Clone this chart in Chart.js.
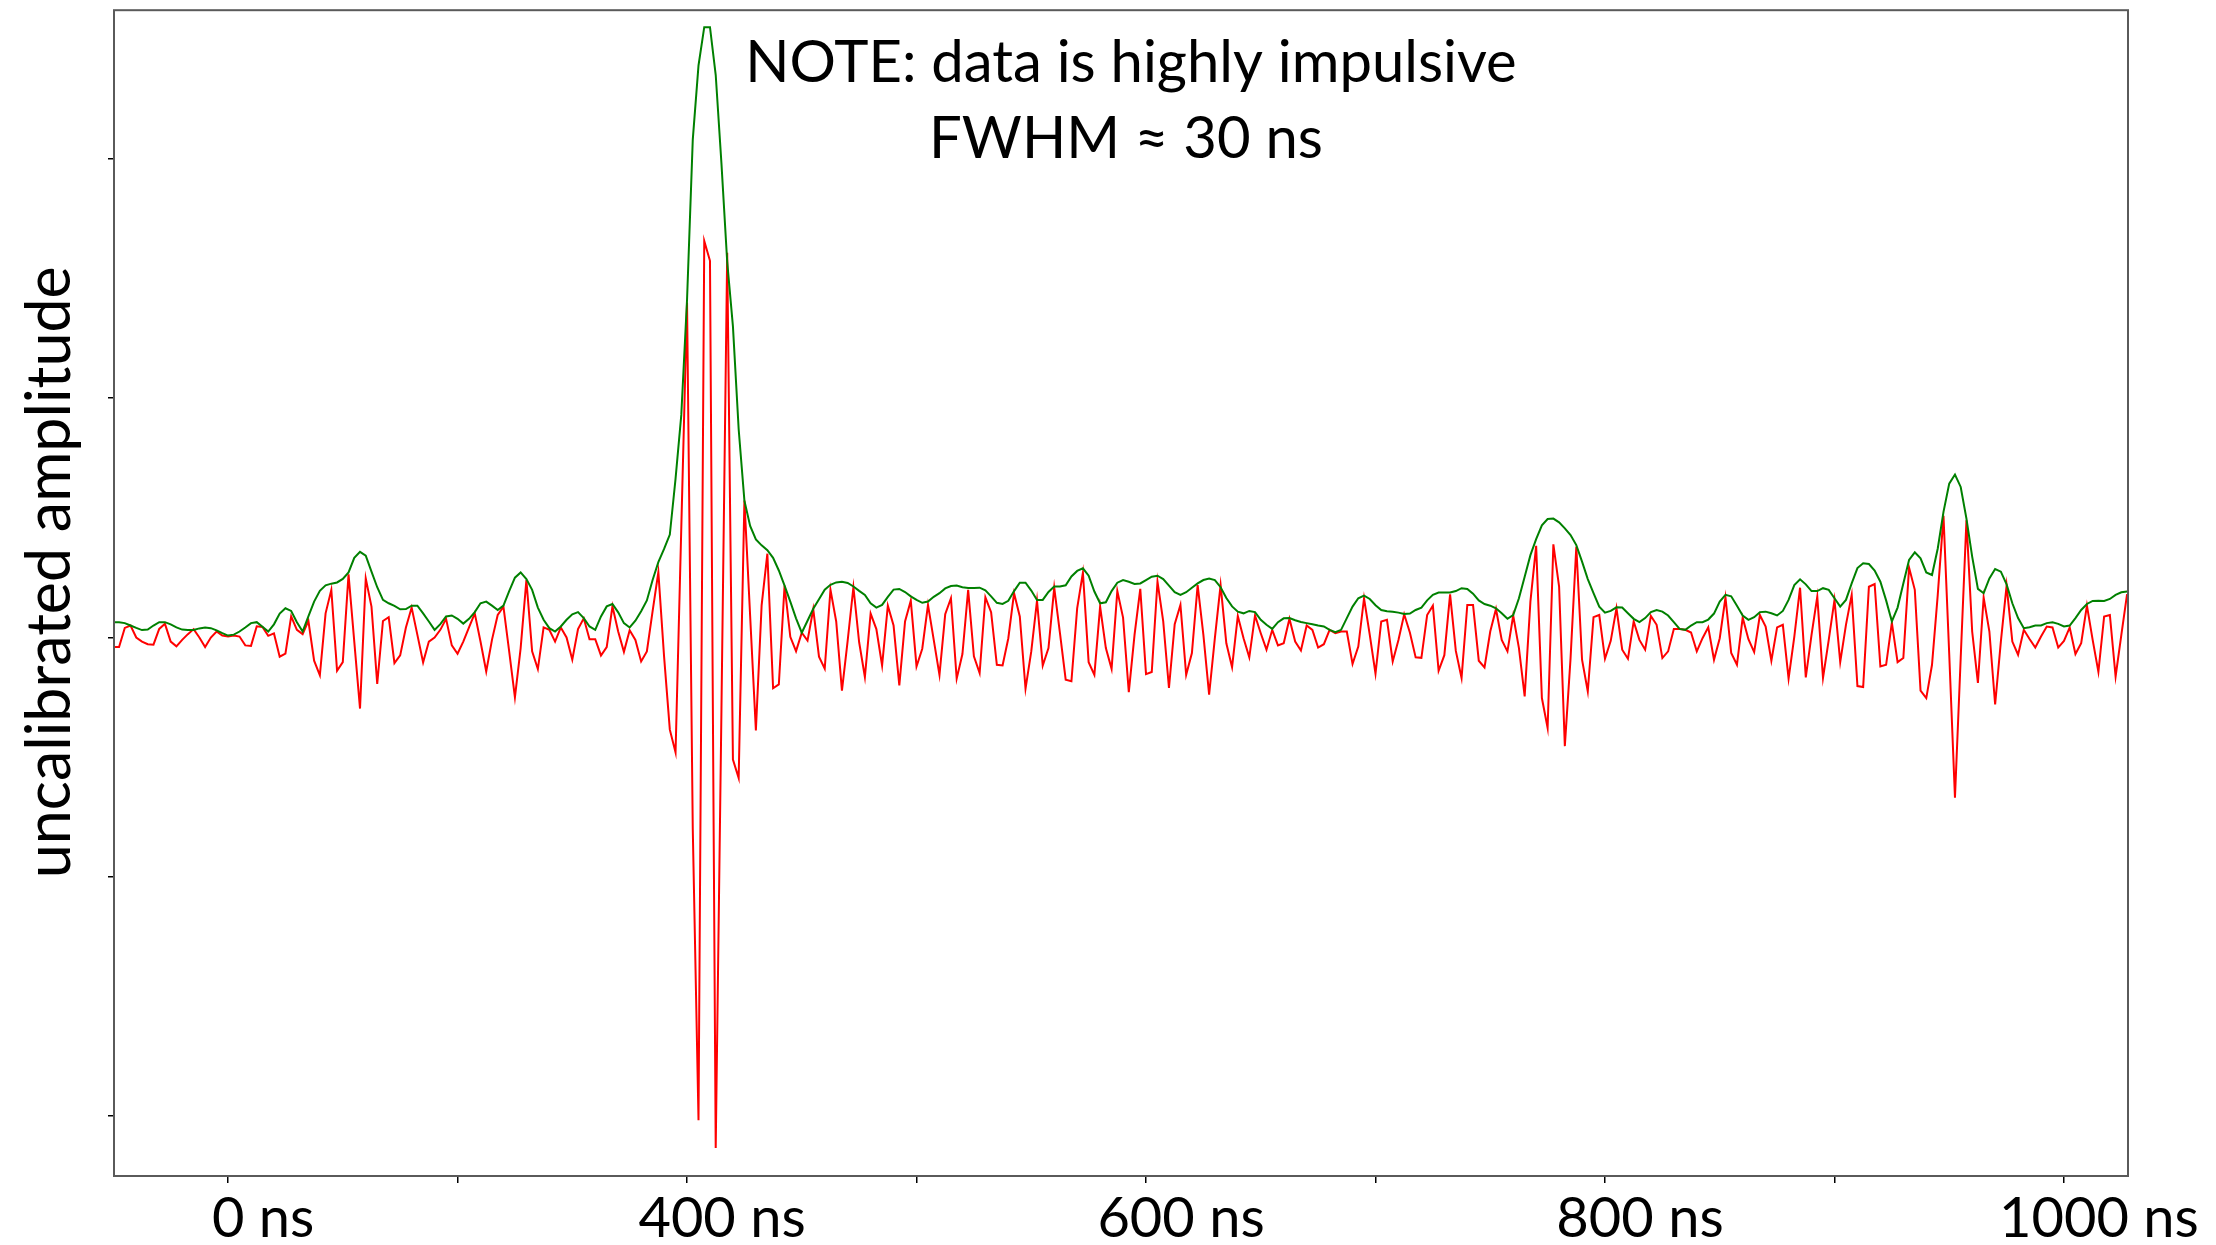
<!DOCTYPE html>
<html>
<head>
<meta charset="utf-8">
<title>impulsive data</title>
<script src="https://cdn.jsdelivr.net/npm/chart.js@4.4.1/dist/chart.umd.min.js"></script>
<style>
  html, body { margin: 0; padding: 0; background: #fff; }
  #wrap { width: 2216px; height: 1245px; }
</style>
</head>
<body>
<div id="wrap"><canvas id="chart" width="2216" height="1245"></canvas></div>
<script>
// sample grid (x axis units, one sample = 2.5)
const sampleStart = -50;
const sampleStep = 2.5;

// raw trace (red)
const rawTrace = [
  -0.04,-0.04,0.04,0.05,0.0,-0.017,-0.028,-0.03,0.036,0.057,
  -0.017,-0.037,-0.01,0.014,0.035,0.0,-0.04,0.0,0.025,0.008,
  0.004,0.008,0.004,-0.033,-0.035,0.047,0.044,0.007,0.017,-0.08,
  -0.067,0.088,0.032,0.014,0.07,-0.097,-0.158,0.101,0.199,-0.139,
  -0.103,0.264,-0.017,-0.297,0.247,0.129,-0.194,0.069,0.085,-0.107,
  -0.075,0.042,0.125,0.011,-0.104,-0.017,0.0,0.032,0.078,-0.033,
  -0.068,-0.017,0.042,0.101,-0.017,-0.142,-0.01,0.094,0.129,-0.058,
  -0.25,-0.044,0.24,-0.058,-0.132,0.042,0.032,-0.017,0.042,0.0,
  -0.093,0.035,0.08,-0.007,-0.007,-0.075,-0.04,0.13,0.025,-0.06,
  0.03,-0.01,-0.1,-0.058,0.11,0.273,-0.08,-0.385,-0.48,0.46,
  1.4,-0.8,-2.017,1.657,1.574,-2.133,-0.3,1.607,-0.51,-0.587,
  0.572,0.09,-0.388,0.134,0.35,-0.212,-0.196,0.217,0.003,-0.057,
  0.02,-0.013,0.118,-0.08,-0.13,0.2,0.067,-0.222,-0.013,0.21,
  -0.02,-0.165,0.1,0.035,-0.117,0.133,0.05,-0.2,0.067,0.154,
  -0.121,-0.047,0.136,-0.01,-0.156,0.097,0.164,-0.172,-0.069,0.199,
  -0.079,-0.149,0.168,0.106,-0.114,-0.117,-0.003,0.185,0.088,-0.214,
  -0.058,0.154,-0.117,-0.044,0.208,0.018,-0.176,-0.183,0.122,0.271,
  -0.103,-0.156,0.129,-0.044,-0.131,0.194,0.083,-0.228,0.011,0.203,
  -0.153,-0.144,0.233,0.067,-0.211,0.056,0.136,-0.156,-0.065,0.219,
  0.011,-0.239,-0.003,0.219,-0.024,-0.124,0.09,-0.003,-0.083,0.092,
  0.018,-0.051,0.032,-0.033,-0.024,0.078,-0.017,-0.054,0.05,0.032,
  -0.042,-0.028,0.032,0.018,0.025,0.025,-0.11,-0.038,0.164,0.011,
  -0.151,0.067,0.074,-0.1,-0.01,0.097,0.02,-0.083,-0.085,0.094,
  0.133,-0.139,-0.074,0.18,-0.056,-0.169,0.136,0.136,-0.097,-0.125,
  0.025,0.119,-0.01,-0.058,0.092,-0.044,-0.246,0.15,0.383,-0.253,
  -0.378,0.389,0.213,-0.454,-0.086,0.379,-0.093,-0.225,0.085,0.094,
  -0.089,-0.014,0.122,-0.051,-0.089,0.067,-0.01,-0.051,0.09,0.053,
  -0.086,-0.058,0.035,0.035,0.032,0.021,-0.058,-0.003,0.043,-0.093,
  -0.003,0.167,-0.065,-0.114,0.083,-0.007,-0.061,0.094,0.046,-0.097,
  0.042,0.053,-0.172,0.004,0.208,-0.167,0.011,0.171,-0.169,-0.01,
  0.157,-0.103,0.053,0.178,-0.203,-0.207,0.212,0.223,-0.121,-0.114,
  0.062,-0.103,-0.086,0.292,0.199,-0.222,-0.253,-0.114,0.178,0.508,
  -0.07,-0.669,-0.086,0.49,0.025,-0.19,0.167,0.025,-0.28,-0.017,
  0.217,-0.017,-0.072,0.032,-0.006,-0.042,0.004,0.046,0.042,-0.042,
  -0.014,0.042,-0.069,-0.024,0.133,-0.01,-0.144,0.088,0.094,-0.163,
  0.011,0.181
];

// envelope (green)
const envelope = [
  0.064,0.064,0.06,0.05,0.04,0.031,0.033,0.05,0.064,0.064,
  0.055,0.042,0.033,0.031,0.031,0.038,0.042,0.039,0.03,0.018,
  0.008,0.012,0.025,0.042,0.06,0.064,0.045,0.025,0.055,0.1,
  0.122,0.111,0.064,0.025,0.088,0.15,0.195,0.218,0.225,0.23,
  0.245,0.272,0.333,0.358,0.342,0.275,0.21,0.157,0.143,0.132,
  0.118,0.119,0.133,0.133,0.101,0.067,0.032,0.056,0.088,0.092,
  0.078,0.058,0.078,0.106,0.143,0.15,0.133,0.115,0.133,0.194,
  0.25,0.272,0.244,0.199,0.125,0.074,0.039,0.025,0.046,0.074,
  0.097,0.106,0.081,0.046,0.032,0.088,0.13,0.14,0.105,0.06,
  0.042,0.07,0.11,0.155,0.24,0.315,0.37,0.43,0.664,0.93,
  1.41,2.08,2.39,2.55,2.55,2.35,1.98,1.57,1.3,0.87,
  0.572,0.466,0.41,0.385,0.365,0.333,0.28,0.217,0.15,0.08,
  0.02,0.07,0.12,0.16,0.2,0.22,0.23,0.233,0.228,0.213,
  0.195,0.178,0.143,0.125,0.136,0.17,0.2,0.203,0.19,0.172,
  0.157,0.145,0.15,0.17,0.185,0.205,0.215,0.217,0.21,0.207,
  0.207,0.208,0.197,0.172,0.145,0.14,0.153,0.194,0.229,0.229,
  0.196,0.157,0.157,0.19,0.213,0.213,0.218,0.255,0.278,0.289,
  0.258,0.192,0.143,0.147,0.194,0.229,0.24,0.233,0.224,0.226,
  0.24,0.254,0.258,0.244,0.217,0.189,0.178,0.189,0.208,0.226,
  0.24,0.246,0.24,0.21,0.165,0.13,0.108,0.101,0.111,0.106,
  0.074,0.053,0.036,0.064,0.08,0.081,0.072,0.065,0.06,0.055,
  0.05,0.046,0.032,0.022,0.032,0.081,0.129,0.164,0.175,0.161,
  0.135,0.115,0.11,0.108,0.104,0.098,0.1,0.115,0.125,0.155,
  0.178,0.188,0.188,0.188,0.194,0.206,0.203,0.183,0.155,0.14,
  0.133,0.122,0.101,0.078,0.094,0.164,0.254,0.344,0.411,0.469,
  0.495,0.497,0.481,0.456,0.428,0.386,0.317,0.244,0.185,0.129,
  0.104,0.111,0.126,0.125,0.101,0.078,0.064,0.081,0.106,0.115,
  0.108,0.092,0.064,0.036,0.032,0.05,0.064,0.064,0.075,0.1,
  0.15,0.178,0.172,0.133,0.092,0.074,0.085,0.106,0.108,0.101,
  0.092,0.111,0.157,0.219,0.243,0.222,0.194,0.194,0.206,0.199,
  0.164,0.129,0.157,0.226,0.29,0.31,0.307,0.28,0.233,0.155,
  0.067,0.125,0.226,0.324,0.356,0.331,0.272,0.261,0.372,0.525,
  0.643,0.681,0.629,0.497,0.338,0.203,0.185,0.247,0.286,0.275,
  0.222,0.143,0.081,0.039,0.043,0.05,0.05,0.06,0.064,0.057,
  0.046,0.05,0.081,0.115,0.14,0.153,0.154,0.153,0.161,0.178,
  0.189,0.192
];

// x ticks: every 100 units gets a mark, only these get text
const xTickValues = [0, 100, 200, 300, 400, 500, 600, 700, 800];
const xLabelValues = [0, 200, 400, 600, 800];
const xLabelTexts = ['0 ns', '400 ns', '600 ns', '800 ns', '1000 ns'];
const yTickValues = [-2, -1, 0, 1, 2];

const yTitle = 'uncalibrated amplitude';
const noteLines = ['NOTE: data is highly impulsive', 'FWHM \u2248 30 ns'];

const FONT = 'Lato, "Open Sans", sans-serif';

const toPoints = (arr) => arr.map((v, i) => ({ x: sampleStart + i * sampleStep, y: v }));

// frame, y title and the note text
const overlay = {
  id: 'overlay',
  afterDraw(chart) {
    const { ctx, chartArea: a } = chart;
    ctx.save();
    ctx.strokeStyle = '#5a5a5a';
    ctx.lineWidth = 2;
    ctx.strokeRect(a.left, a.top, a.right - a.left, a.bottom - a.top);

    ctx.fillStyle = '#000';
    ctx.textAlign = 'center';
    ctx.textBaseline = 'alphabetic';
    ctx.font = `58px ${FONT}`;
    ctx.fillText(noteLines[0], a.left + 1017, a.top + 72);
    ctx.fillText(noteLines[1], a.left + 1012, a.top + 148);

    // rotated axis title, a bit above the plot's middle like the original
    ctx.translate(a.left - 44, a.top + 562);
    ctx.rotate(-Math.PI / 2);
    ctx.font = `61px ${FONT}`;
    ctx.textBaseline = 'alphabetic';
    ctx.fillText(yTitle, 0, 0);
    ctx.restore();
  }
};

new Chart(document.getElementById('chart'), {
  type: 'line',
  data: {
    datasets: [
      {
        label: 'envelope',
        data: toPoints(envelope),
        borderColor: '#008000',
        borderWidth: 2,
        pointRadius: 0,
        tension: 0,
        order: 0
      },
      {
        label: 'raw',
        data: toPoints(rawTrace),
        borderColor: '#ff0000',
        borderWidth: 2,
        pointRadius: 0,
        tension: 0,
        order: 1
      }
    ]
  },
  options: {
    responsive: false,
    animation: false,
    events: [],
    layout: { padding: { top: 7, right: 88, left: 0, bottom: 0 } },
    plugins: { legend: { display: false }, tooltip: { enabled: false } },
    scales: {
      x: {
        type: 'linear',
        min: -49.7,
        max: 827.9,
        afterBuildTicks: (scale) => { scale.ticks = xTickValues.map((v) => ({ value: v })); },
        afterFit: (scale) => { scale.height = 69; },
        grid: { drawOnChartArea: false, drawTicks: true, tickLength: 7, color: '#000', lineWidth: 1.5 },
        border: { display: false },
        ticks: {
          autoSkip: false,
          maxRotation: 0,
          padding: 2,
          labelOffset: 35,
          color: '#000',
          font: { family: FONT, size: 56 },
          callback: (v) => {
            const k = xLabelValues.indexOf(v);
            return k < 0 ? '' : xLabelTexts[k];
          }
        }
      },
      y: {
        type: 'linear',
        min: -2.25,
        max: 2.621,
        afterBuildTicks: (scale) => { scale.ticks = yTickValues.map((v) => ({ value: v })); },
        afterFit: (scale) => { scale.width = 114; },
        grid: { drawOnChartArea: false, drawTicks: true, tickLength: 6, color: '#000', lineWidth: 1.5 },
        border: { display: false },
        ticks: { callback: () => '' }
      }
    }
  },
  plugins: [overlay]
});
</script>
</body>
</html>
